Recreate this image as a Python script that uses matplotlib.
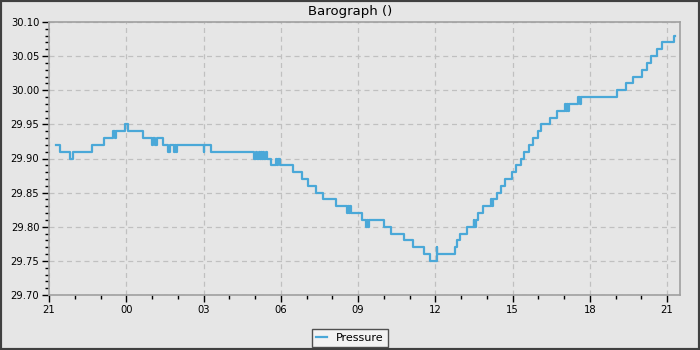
import matplotlib
matplotlib.use("Agg")
import matplotlib.pyplot as plt
import matplotlib.dates as mdates
from matplotlib.patches import Rectangle
import pandas as pd

# Step readings: (time HH:MM, pressure inHg); the series spans 21:00 -> 21:xx next day
times = ["21:17", "21:26", "21:50", "21:55", "22:40", "23:07", "23:30", "23:33", "23:35", "23:57",
         "00:03", "00:40", "00:59", "01:02", "01:06", "01:11", "01:26", "01:38", "01:42", "01:51",
         "01:54", "01:56", "01:58", "03:00", "03:02", "03:17", "04:58", "05:02", "05:05", "05:09",
         "05:12", "05:14", "05:16", "05:19", "05:21", "05:26", "05:28", "05:37", "05:49", "05:51",
         "05:54", "05:58", "06:29", "06:49", "07:04", "07:22", "07:38", "08:09", "08:34", "08:37",
         "08:39", "08:41", "08:43", "09:09", "09:19", "09:21", "09:23", "09:26", "10:01", "10:16",
         "10:46", "11:09", "11:34", "11:48", "12:03", "12:05", "12:46", "12:51", "12:58", "13:13",
         "13:29", "13:31", "13:34", "13:40", "13:50", "14:09", "14:12", "14:14", "14:23", "14:33",
         "14:42", "14:58", "15:08", "15:19", "15:27", "15:39", "15:47", "15:59", "16:06", "16:26",
         "16:43", "17:02", "17:05", "17:07", "17:09", "17:12", "17:33", "17:36", "17:40", "19:03",
         "19:24", "19:41", "20:01", "20:12", "20:22", "20:36", "20:49", "21:15", "21:19"]
pressure = [29.92, 29.91, 29.90, 29.91, 29.92, 29.93, 29.94, 29.93, 29.94, 29.95,
            29.94, 29.93, 29.92, 29.93, 29.92, 29.93, 29.92, 29.91, 29.92, 29.91,
            29.92, 29.91, 29.92, 29.91, 29.92, 29.91, 29.90, 29.91, 29.90, 29.91,
            29.90, 29.91, 29.90, 29.91, 29.90, 29.91, 29.90, 29.89, 29.90, 29.89,
            29.90, 29.89, 29.88, 29.87, 29.86, 29.85, 29.84, 29.83, 29.82, 29.83,
            29.82, 29.83, 29.82, 29.81, 29.80, 29.81, 29.80, 29.81, 29.80, 29.79,
            29.78, 29.77, 29.76, 29.75, 29.77, 29.76, 29.77, 29.78, 29.79, 29.80,
            29.81, 29.80, 29.81, 29.82, 29.83, 29.84, 29.83, 29.84, 29.85, 29.86,
            29.87, 29.88, 29.89, 29.90, 29.91, 29.92, 29.93, 29.94, 29.95, 29.96,
            29.97, 29.98, 29.97, 29.98, 29.97, 29.98, 29.99, 29.98, 29.99, 30.00,
            30.01, 30.02, 30.03, 30.04, 30.05, 30.06, 30.07, 30.08, 30.08]

x_start = "21:00"
x_end_hours = 24.5
y_min, y_max = 29.70, 30.10
title = "Barograph ()"
series_name = "Pressure"

# Build datetimes with day rollover
base = pd.Timestamp("2024-01-01 " + x_start)
stamps = []
day = 0
prev = None
for t in times:
    hh, mm = map(int, t.split(":"))
    ts = pd.Timestamp(2024, 1, 1, hh, mm) + pd.Timedelta(days=day)
    if prev is not None and ts < prev:
        day += 1
        ts = ts + pd.Timedelta(days=1)
    if ts < base:
        day += 1
        ts = ts + pd.Timedelta(days=1)
    stamps.append(ts)
    prev = ts

bg = "#e6e6e6"
fig = plt.figure(figsize=(7, 3.5), dpi=100, facecolor=bg)
ax = fig.add_axes([49/700, 1-295/350, (680-49)/700, (295-22)/350])
ax.set_facecolor(bg)

line, = ax.step(stamps, pressure, where="post", color="#4aa8d8", lw=1.6, label=series_name)

ax.set_xlim(base, base + pd.Timedelta(hours=x_end_hours))
ax.set_ylim(y_min, y_max)
ax.xaxis.set_major_locator(mdates.HourLocator(byhour=range(0, 24, 3)))
ax.xaxis.set_minor_locator(mdates.HourLocator())
ax.xaxis.set_major_formatter(mdates.DateFormatter("%H"))
ax.yaxis.set_major_locator(plt.MultipleLocator(0.05))
ax.yaxis.set_minor_locator(plt.MultipleLocator(0.01))
ax.yaxis.set_major_formatter(plt.FormatStrFormatter("%.2f"))

ax.grid(True, which="major", ls=(0, (4, 3)), color="#c0c0c0", lw=0.9)
ax.set_axisbelow(True)
for s in ax.spines.values():
    s.set_color("#a0a0a0")
    s.set_linewidth(1.2)
ax.tick_params(which="major", length=5, width=1, color="black", labelsize=8, pad=2)
ax.tick_params(which="minor", length=3, width=1, color="black")
for lab in ax.get_xticklabels() + ax.get_yticklabels():
    lab.set_fontstretch("condensed")

fig.text(0.5, 1-11/350, title, ha="center", va="center", fontsize=9.5)

leg = fig.legend(handles=[line], labels=[series_name], loc="center",
                 bbox_to_anchor=(350/700, 1-338/350), fontsize=8, frameon=True,
                 fancybox=False, handlelength=1.0, borderpad=0.35, handletextpad=0.8,
                 borderaxespad=0)
leg.get_frame().set_facecolor("#f2f2f2")
leg.get_frame().set_edgecolor("#505050")
leg.get_frame().set_linewidth(1.0)
leg.get_frame().set_alpha(1)

fig.patches.append(Rectangle((0, 0), 1, 1, transform=fig.transFigure, fill=False,
                             edgecolor="#404040", linewidth=3, zorder=10))

fig.savefig("out.png", dpi=100, facecolor=bg)
